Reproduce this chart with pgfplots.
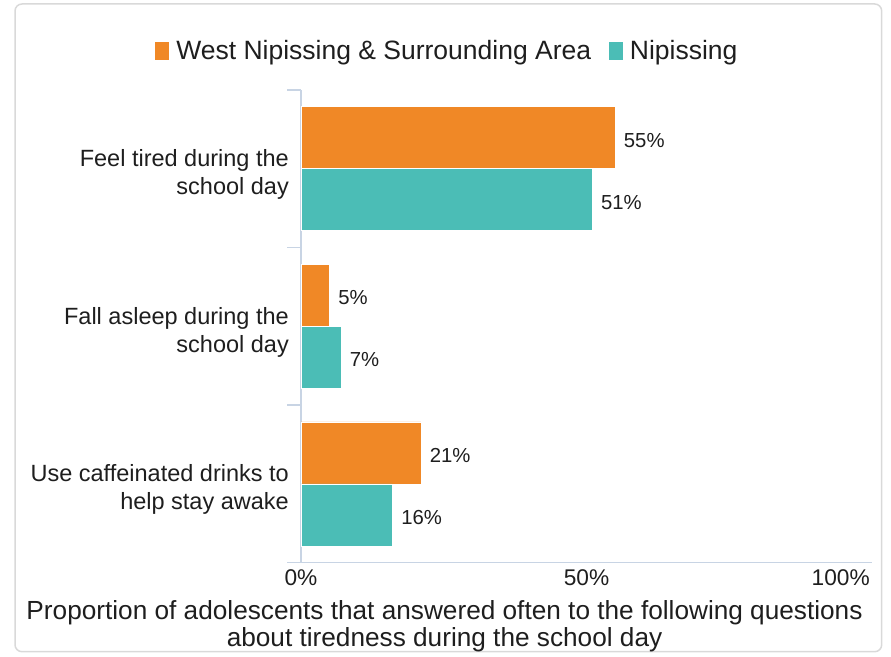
\documentclass[border=0pt]{standalone}
\usepackage{fontspec}
\setmainfont{Liberation Sans}
\usepackage{pgfplots}
\pgfplotsset{compat=1.18}
\definecolor{orangec}{RGB}{240,136,38}
\definecolor{tealc}{RGB}{75,189,182}
\definecolor{axiscol}{RGB}{200,212,228}
\definecolor{framecol}{RGB}{217,217,217}
\definecolor{txt}{RGB}{30,30,30}
\begin{document}
\begin{tikzpicture}[x=1pt,y=1pt]
\path[use as bounding box] (0,0) rectangle (891,656);
\draw[framecol, line width=1.5pt, rounded corners=7pt] (15,4.3) rectangle (881.7,652);
\begin{axis}[
  at={(301pt,93.3pt)}, anchor=south west,
  scale only axis, width=571pt, height=472.7pt,
  xbar, bar width=62pt,
  xmin=0, xmax=100, ymin=-0.5, ymax=2.5,
  clip=false,
  axis x line=bottom, axis y line=left,
  axis line style={draw=axiscol, line width=1.3pt, -},
  major tick length=0pt,
  minor tick length=14pt,
  tick align=outside,
  tick style={draw=axiscol, line width=1.3pt},
  xtick={0,50}, xticklabels={0\%,50\%},
  extra x ticks={100}, extra x tick labels={100\%},
  extra x tick style={xticklabel style={anchor=north east, xshift=-2pt}},
  xticklabel style={font=\fontsize{22.7pt}{26pt}\selectfont, text=txt, inner sep=0pt, yshift=-7pt},
  ytick={0,1,2},
  minor ytick={-0.5,0.5,1.5,2.5},
  yticklabels={{Use caffeinated drinks to\\help stay awake},{Fall asleep during the\\school day},{Feel tired during the\\school day}},
  yticklabel style={align=right, anchor=east, inner sep=0pt, xshift=-12pt, yshift=-6pt, text=txt, font=\fontsize{23.5pt}{28pt}\selectfont},
  nodes near coords={\pgfmathprintnumber{\pgfplotspointmeta}\%},
  nodes near coords style={anchor=west, inner sep=0pt, xshift=8.5pt, yshift=-2.5pt, text=txt, font=\fontsize{20.3pt}{24pt}\selectfont, /pgf/number format/assume math mode=true},
  legend columns=2,
  legend style={at={(0.2548,1.0825)}, anchor=center, draw=none, fill=none, inner sep=0pt,
    font=\fontsize{26.5pt}{30pt}\selectfont, text=txt,
    nodes={inner sep=0pt},
    /tikz/every odd column/.append style={column sep=7pt},
    /tikz/every even column/.append style={column sep=18pt}},
]
\addplot[fill=orangec, draw=white, line width=0.8pt, bar shift=31pt,
  legend image code/.code={\fill[orangec] (0pt,-8.5pt) rectangle (13pt,8.5pt);}]
  coordinates {(55,2) (5,1) (21,0)};
\addlegendentry{West Nipissing \& Surrounding Area}
\addplot[fill=tealc, draw=white, line width=0.8pt, bar shift=-31pt,
  legend image code/.code={\fill[tealc] (0pt,-8.5pt) rectangle (13pt,8.5pt);}]
  coordinates {(51,2) (7,1) (16,0)};
\addlegendentry{Nipissing}
\end{axis}
\node[anchor=base, inner sep=0pt, text=txt, font=\fontsize{26.2pt}{30pt}\selectfont] at (444.5,37) {Proportion of adolescents that answered often to the following questions};
\node[anchor=base, inner sep=0pt, text=txt, font=\fontsize{26.2pt}{30pt}\selectfont] at (444.5,9.3) {about tiredness during the school day};
\end{tikzpicture}
\end{document}
